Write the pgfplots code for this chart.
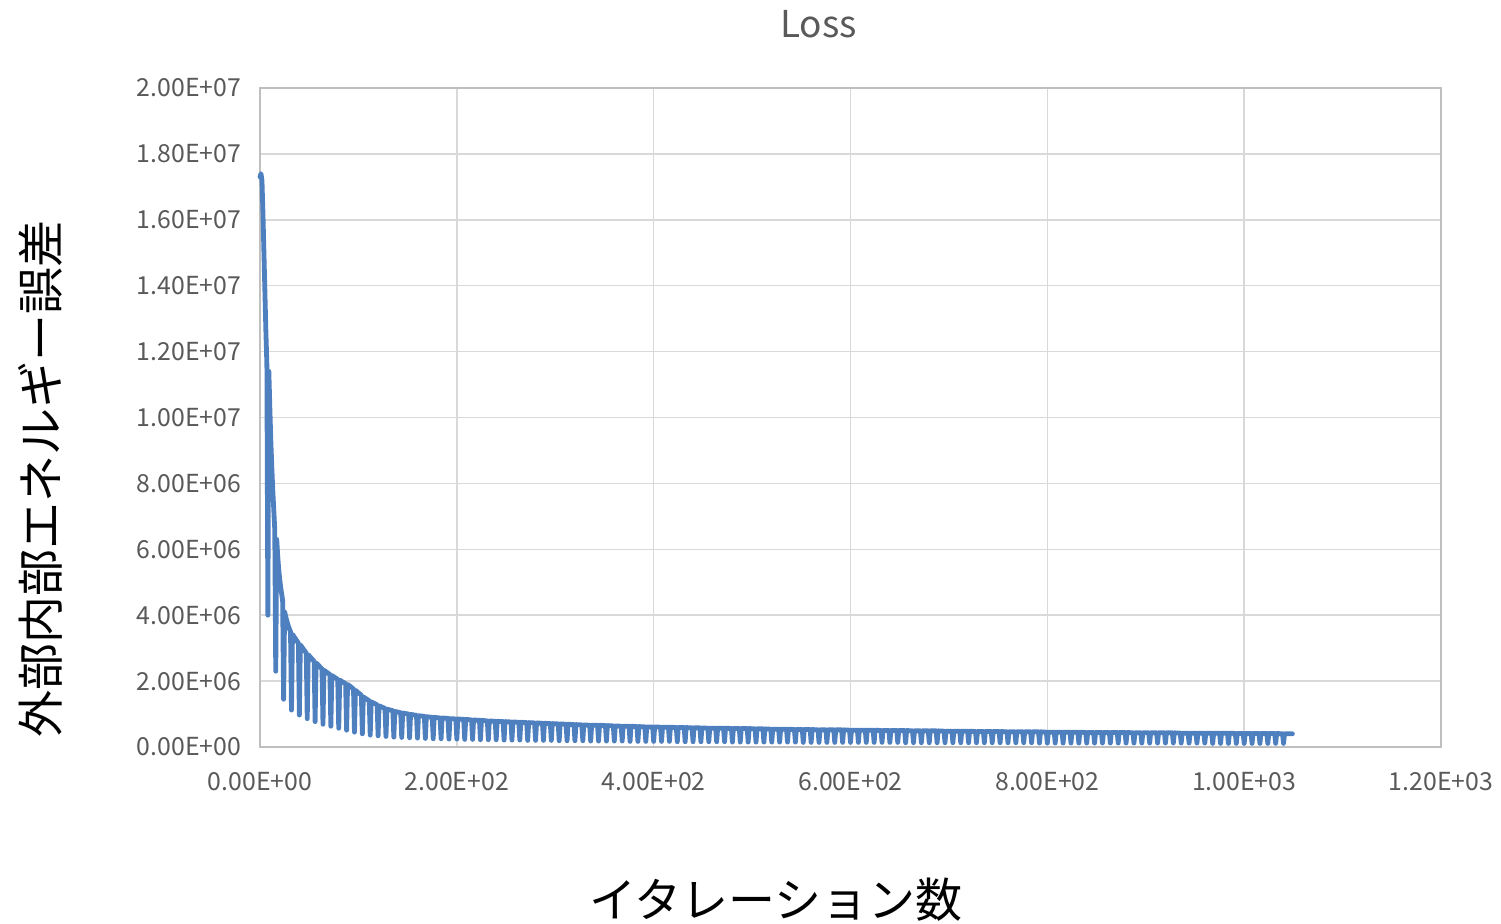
\documentclass[border=0pt]{standalone}
\usepackage{fontspec}
\setmainfont{Noto Sans CJK JP}
\usepackage{pgfplots}
\pgfplotsset{compat=1.18}
\definecolor{lossblue}{HTML}{4E7FBE}
\definecolor{gridgray}{HTML}{D9D9D9}
\definecolor{axisgray}{HTML}{BFBFBF}
\definecolor{textgray}{HTML}{595959}
\begin{document}
\begin{tikzpicture}
\begin{axis}[
  name=ax,
  scale only axis,
  width=590.5pt, height=329.5pt,
  xmin=0, xmax=1200, ymin=0, ymax=20,
  xtick={0,200,400,600,800,1000,1200},
  xticklabels={0.00E+00,2.00E+02,4.00E+02,6.00E+02,8.00E+02,1.00E+03,1.20E+03},
  ytick={0,2,4,6,8,10,12,14,16,18,20},
  yticklabels={0.00E+00,2.00E+06,4.00E+06,6.00E+06,8.00E+06,1.00E+07,1.20E+07,1.40E+07,1.60E+07,1.80E+07,2.00E+07},
  grid=major,
  major grid style={gridgray, line width=0.75pt},
  axis line style={axisgray, line width=0.75pt},
  major tick length=0pt,
  tick label style={font=\fontsize{12.4}{14}\selectfont, text=textgray},
  xticklabel style={yshift=-9pt},
  yticklabel style={xshift=-6pt},
  clip=false,
]
\addplot[lossblue, line width=2.4pt, line join=round, line cap=round] coordinates {
(0,17.3)(1,17.4)(2,17.2)(3,16.2)(4,15.0)(5,13.8)(6,12.6)(7,11.6)(8,4.0)
(9,11.4)(10,10.3)(11,9.3)(12,8.5)(13,7.8)(14,7.2)(15,6.6)(16,2.3)
(17,6.3)(18,5.8)(19,5.4)(20,5.1)(21,4.85)(22,4.65)(23,4.45)(24,1.45)
(25,4.1)(27,3.85)(29,3.65)(31,3.5)(32,1.12)
(33,3.42)(39,3.15)(40,0.97)
(41,3.1)(47,2.85)(48,0.86)
(49,2.8)(55,2.6)(56,0.77)
(57,2.55)(63,2.37)(64,0.69)
(65,2.33)(71,2.2)(72,0.63)
(73,2.17)(79,2.05)(80,0.57)
(81,2.03)(87,1.92)(88,0.51)
(89,1.9)(95,1.76)(96,0.45)
(97,1.72)(103,1.57)(104,0.40)
(105,1.52)(111,1.40)(112,0.36)
(113,1.37)(119,1.28)(120,0.34)
(121,1.25)(127,1.17)(128,0.32)
(129,1.15)(135,1.10)(136,0.30)
(137,1.08)(143,1.04)(144,0.29)
(145,1.03)(151,1.00)(152,0.28)
(153,0.99)(159,0.96)(160,0.27)
(161,0.95)(167,0.93)(168,0.26)
(169,0.92)(175,0.90)(176,0.25)
(177,0.90)(183,0.88)(184,0.25)
(185,0.88)(191,0.87)(192,0.24)
(193,0.86)(199,0.85)(200,0.24)
(201,0.85)(207,0.84)(208,0.23)
(209,0.84)(215,0.82)(216,0.23)(217,0.82)
(223,0.81)(224,0.22)(225,0.81)
(231,0.79)(232,0.22)(233,0.79)
(239,0.78)(240,0.22)(241,0.78)
(247,0.77)(248,0.21)(249,0.77)
(255,0.76)(256,0.21)(257,0.76)
(263,0.75)(264,0.21)(265,0.75)
(271,0.74)(272,0.20)(273,0.74)
(279,0.73)(280,0.20)(281,0.73)
(287,0.72)(288,0.20)(289,0.72)
(295,0.71)(296,0.20)(297,0.71)
(303,0.70)(304,0.19)(305,0.70)
(311,0.69)(312,0.19)(313,0.69)
(319,0.68)(320,0.19)(321,0.68)
(327,0.67)(328,0.19)(329,0.67)
(335,0.66)(336,0.18)(337,0.66)
(343,0.66)(344,0.18)(345,0.66)
(351,0.65)(352,0.18)(353,0.65)
(359,0.64)(360,0.18)(361,0.64)
(367,0.63)(368,0.18)(369,0.63)
(375,0.63)(376,0.17)(377,0.63)
(383,0.62)(384,0.17)(385,0.62)
(391,0.61)(392,0.17)(393,0.61)
(399,0.61)(400,0.17)(401,0.61)
(407,0.60)(408,0.17)(409,0.60)
(415,0.60)(416,0.17)(417,0.60)
(423,0.59)(424,0.16)(425,0.59)
(431,0.59)(432,0.16)(433,0.59)
(439,0.58)(440,0.16)(441,0.58)
(447,0.58)(448,0.16)(449,0.58)
(455,0.57)(456,0.16)(457,0.57)
(463,0.57)(464,0.16)(465,0.57)
(471,0.57)(472,0.16)(473,0.57)
(479,0.56)(480,0.15)(481,0.56)
(487,0.56)(488,0.15)(489,0.56)
(495,0.56)(496,0.15)(497,0.56)
(503,0.55)(504,0.15)(505,0.55)
(511,0.55)(512,0.15)(513,0.55)
(519,0.54)(520,0.15)(521,0.54)
(527,0.54)(528,0.15)(529,0.54)
(535,0.54)(536,0.15)(537,0.54)
(543,0.53)(544,0.15)(545,0.53)
(551,0.53)(552,0.14)(553,0.53)
(559,0.53)(560,0.14)(561,0.53)
(567,0.52)(568,0.14)(569,0.52)
(575,0.52)(576,0.14)(577,0.52)
(583,0.52)(584,0.14)(585,0.52)
(591,0.52)(592,0.14)(593,0.52)
(599,0.51)(600,0.14)(601,0.51)
(607,0.51)(608,0.14)(609,0.51)
(615,0.51)(616,0.14)(617,0.51)
(623,0.51)(624,0.14)(625,0.51)
(631,0.50)(632,0.14)(633,0.50)
(639,0.50)(640,0.14)(641,0.50)
(647,0.50)(648,0.14)(649,0.50)
(655,0.50)(656,0.13)(657,0.50)
(663,0.49)(664,0.13)(665,0.49)
(671,0.49)(672,0.13)(673,0.49)
(679,0.49)(680,0.13)(681,0.49)
(687,0.49)(688,0.13)(689,0.49)
(695,0.48)(696,0.13)(697,0.48)
(703,0.48)(704,0.13)(705,0.48)
(711,0.48)(712,0.13)(713,0.48)
(719,0.48)(720,0.13)(721,0.48)
(727,0.47)(728,0.13)(729,0.47)
(735,0.47)(736,0.13)(737,0.47)
(743,0.47)(744,0.13)(745,0.47)
(751,0.47)(752,0.13)(753,0.47)
(759,0.46)(760,0.13)(761,0.46)
(767,0.46)(768,0.13)(769,0.46)
(775,0.46)(776,0.13)(777,0.46)
(783,0.46)(784,0.13)(785,0.46)
(791,0.46)(792,0.12)(793,0.46)
(799,0.45)(800,0.12)(801,0.45)
(807,0.45)(808,0.12)(809,0.45)
(815,0.45)(816,0.12)(817,0.45)
(823,0.45)(824,0.12)(825,0.45)
(831,0.45)(832,0.12)(833,0.45)
(839,0.44)(840,0.12)(841,0.44)
(847,0.44)(848,0.12)(849,0.44)
(855,0.44)(856,0.12)(857,0.44)
(863,0.44)(864,0.12)(865,0.44)
(871,0.44)(872,0.12)(873,0.44)
(879,0.44)(880,0.12)(881,0.44)
(887,0.43)(888,0.12)(889,0.43)
(895,0.43)(896,0.12)(897,0.43)
(903,0.43)(904,0.12)(905,0.43)
(911,0.43)(912,0.12)(913,0.43)
(919,0.43)(920,0.12)(921,0.43)
(927,0.43)(928,0.12)(929,0.43)
(935,0.42)(936,0.12)(937,0.42)
(943,0.42)(944,0.12)(945,0.42)
(951,0.42)(952,0.12)(953,0.42)
(959,0.42)(960,0.12)(961,0.42)
(967,0.42)(968,0.11)(969,0.42)
(975,0.42)(976,0.11)(977,0.42)
(983,0.42)(984,0.11)(985,0.42)
(991,0.41)(992,0.11)(993,0.41)
(999,0.41)(1000,0.11)(1001,0.41)
(1007,0.41)(1008,0.11)(1009,0.41)
(1015,0.41)(1016,0.11)(1017,0.41)
(1023,0.41)(1024,0.11)(1025,0.41)
(1031,0.41)(1032,0.11)(1033,0.41)
(1039,0.40)(1040,0.11)(1041,0.40)
(1049,0.40)
};
\node[font=\fontsize{18.5}{22}\selectfont, text=textgray] at (rel axis cs:0.473,1.097) {Loss};
\node[font=\fontsize{23.5}{28}\selectfont] at (rel axis cs:0.437,-0.232) {イタレーション数};
\node[font=\fontsize{23.5}{28}\selectfont, rotate=90] at (rel axis cs:-0.1863,0.407) {外部内部エネルギー誤差};
\end{axis}
\pgfresetboundingbox
\path[use as bounding box] ([shift={(-130pt,-88.5pt)}]ax.south west) rectangle ([shift={(30pt,44pt)}]ax.north east);
\end{tikzpicture}
\end{document}
